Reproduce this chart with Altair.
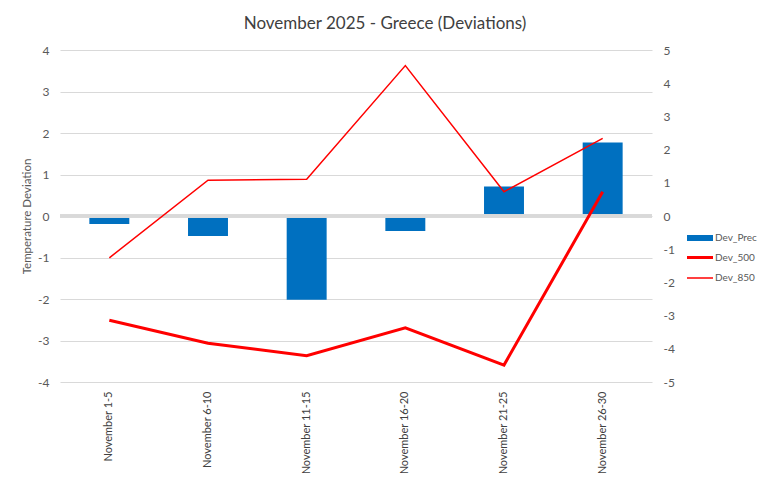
import altair as alt
import pandas as pd

categories = ["November 1-5", "November 6-10", "November 11-15",
              "November 16-20", "November 21-25", "November 26-30"]
dev_prec = [-0.19, -0.48, -2.02, -0.36, 0.71, 1.77]
dev_500 = [-3.14, -3.83, -4.21, -3.37, -4.49, 0.73]
dev_850 = [-1.26, 1.08, 1.11, 4.53, 0.73, 2.34]

series_names = ["Dev_Prec", "Dev_500", "Dev_850"]
series_colors = ["#0070C0", "#FF0000", "#FF0000"]
series_widths = [6, 3, 1.5]

bars_df = pd.DataFrame({"category": categories, "series": "Dev_Prec", "value": dev_prec})
lines_df = pd.DataFrame({
    "category": categories * 2,
    "series": ["Dev_500"] * len(categories) + ["Dev_850"] * len(categories),
    "value": dev_500 + dev_850,
})

FONT = "Lato"

x_enc = alt.X(
    "category:N", sort=categories,
    scale=alt.Scale(paddingInner=0.595, paddingOuter=0.2975),
    axis=alt.Axis(title=None, labelAngle=-90, ticks=False, domain=False,
                  labelColor="#404040", labelFontSize=11, labelPadding=9, labelFont=FONT),
)

color_enc = alt.Color(
    "series:N",
    scale=alt.Scale(domain=series_names, range=series_colors),
    legend=alt.Legend(title=None, orient="none", legendX=632, legendY=180,
                      symbolType="M-2.6,0H2.6", symbolSize=100, labelFontSize=10,
                      labelColor="#595959", labelFont=FONT, rowPadding=1,
                      gridAlign="all", labelOffset=7),
)

bars = alt.Chart(bars_df).mark_bar(color="#0070C0").encode(
    x=x_enc,
    y=alt.Y("value:Q", scale=alt.Scale(domain=[-4, 4], nice=False),
            axis=alt.Axis(title="Temperature Deviation", values=list(range(-4, 5)),
                          labelExpr="datum.value",
                          grid=True, gridColor="#d9d9d9", ticks=False, domain=False,
                          labelColor="#595959", labelFontSize=12, labelPadding=11,
                          labelFont=FONT, titleFont=FONT, titleFontSize=11.5,
                          titleColor="#595959", titleFontWeight="normal", titlePadding=5)),
    color=color_enc,
)

zero_rule = alt.Chart(bars_df).mark_rule(color="#d9d9d9", strokeWidth=3).encode(
    y=alt.datum(0),
)

left = alt.layer(bars, zero_rule)

lines = alt.Chart(lines_df).mark_line().encode(
    x=x_enc,
    y=alt.Y("value:Q", scale=alt.Scale(domain=[-5, 5], nice=False),
            axis=alt.Axis(title=None, orient="right", values=list(range(-5, 6)),
                          labelExpr="datum.value",
                          grid=False, ticks=False, domain=False,
                          labelColor="#595959", labelFontSize=12, labelPadding=11,
                          labelFont=FONT)),
    color=color_enc,
    strokeWidth=alt.StrokeWidth("series:N",
                                scale=alt.Scale(domain=series_names, range=series_widths,
                                                type="ordinal"),
                                legend=alt.Legend(title=None, orient="none")),
    detail="series:N",
)

chart = alt.layer(left, lines).resolve_scale(y="independent").properties(
    width=592, height=332,
    padding={"left": 52, "top": 42, "right": 109, "bottom": 91},
    autosize=alt.AutoSizeParams(type="none"),
    title=alt.Title("November 2025 - Greece (Deviations)", fontSize=17, font=FONT,
                    fontWeight="normal", color="#404040", anchor="middle", dx=29, offset=11),
    background="white",
).configure_view(stroke=None)

chart.save("out.html", embed_options={"renderer": "svg", "actions": False})
